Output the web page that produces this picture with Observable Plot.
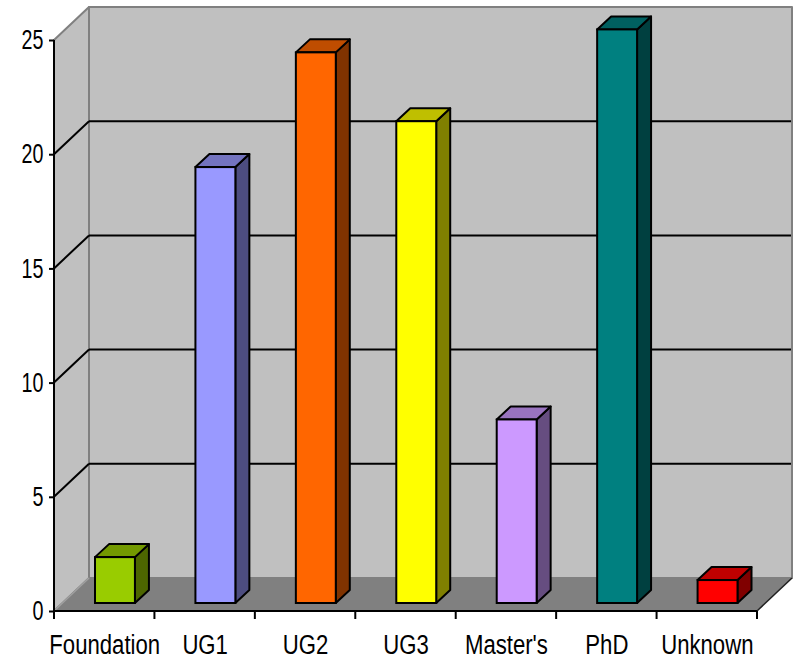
<!DOCTYPE html>
<html>
<head>
<meta charset="utf-8">
<style>html,body{margin:0;padding:0;background:#fff}svg{display:block;overflow:visible}</style>
<script src="https://cdn.jsdelivr.net/npm/d3@7"></script>
<script src="https://cdn.jsdelivr.net/npm/@observablehq/plot@0.6"></script>
</head>
<body>
<div id="chart"></div>
<script>
const categories = ["Foundation", "UG1", "UG2", "UG3", "Master's", "PhD", "Unknown"];
const counts = [2, 19, 24, 21, 8, 25, 1];
const frontColors = ["#99CC00", "#9999FF", "#FF6600", "#FFFF00", "#CC99FF", "#008080", "#FF0000"];
const yTicks = [0, 5, 10, 15, 20, 25];
const rows = categories.map((category, i) => ({category, count: counts[i]}));

// 3D projection of the box
const wallDx = 35, wallDy = -33;      // depth of the chart box
const barDx = 0, barDy = -8;          // plane of the bars' front faces
const boxDx = 14, boxDy = -13;        // depth of each bar
const insetL = 41, insetR = 19.5;     // bar within its band
const stretch = 1.0045;               // bars' plane is marginally taller than the axis
const lineW = 2;

function box3d(index, scales, values, dims) {
  const {x, y} = scales;
  const ns = "http://www.w3.org/2000/svg";
  const g = d3.select(document.createElementNS(ns, "g"));
  const left = dims.marginLeft, right = dims.width - dims.marginRight;
  const poly = (pts, fill, stroke, sw) => g.append("path")
    .attr("d", "M" + pts.map(p => p.join(",")).join("L") + "Z")
    .attr("fill", fill).attr("stroke", stroke || "none").attr("stroke-width", sw || 0)
    .attr("stroke-linejoin", "round");
  const line = (a, b, stroke, sw) => g.append("line")
    .attr("x1", a[0]).attr("y1", a[1]).attr("x2", b[0]).attr("y2", b[1])
    .attr("stroke", stroke).attr("stroke-width", sw);
  const y0 = y(0), yTop = y(d3.max(yTicks));

  // walls and floor
  poly([[left + wallDx, yTop + wallDy], [right + wallDx, yTop + wallDy], [right + wallDx, y0 + wallDy], [left + wallDx, y0 + wallDy]], "#C0C0C0", "#808080", 2);
  poly([[left, yTop], [left + wallDx, yTop + wallDy], [left + wallDx, y0 + wallDy], [left, y0]], "#C0C0C0", "#808080", 2);
  poly([[left, y0], [left + wallDx, y0 + wallDy], [right + wallDx, y0 + wallDy], [right, y0]], "#808080");
  line([left, y0], [left + wallDx, y0 + wallDy], "#A0A0A0", 1.5);
  line([right, y0], [right + wallDx, y0 + wallDy], "#202020", 1.5);

  // gridlines on left and back walls
  for (const t of yTicks) {
    if (t === 0 || t === d3.max(yTicks)) continue;
    line([left, y(t)], [left + wallDx, y(t) + wallDy], "#000", lineW);
    line([left + wallDx, y(t) + wallDy], [right + wallDx - 1, y(t) + wallDy], "#000", lineW);
  }

  // top and side faces of each bar
  const bandW = x(categories[1]) - x(categories[0]);
  rows.forEach((d, i) => {
    const c = d3.rgb(frontColors[i]);
    const xl = x(d.category) + insetL + barDx, xr = x(d.category) + bandW - insetR + barDx;
    const yb = y0 + barDy, yt = y0 + (y(d.count) - y0) * stretch + barDy;
    poly([[xr, yt], [xr + boxDx, yt + boxDy], [xr + boxDx, yb + boxDy], [xr, yb]],
      d3.rgb(c.r * .5, c.g * .5, c.b * .5).formatHex(), "#000", lineW);
    poly([[xl, yt], [xl + boxDx, yt + boxDy], [xr + boxDx, yt + boxDy], [xr, yt]],
      d3.rgb(c.r * .75, c.g * .75, c.b * .75).formatHex(), "#000", lineW);
  });
  return g.node();
}

function axisLines(index, scales, values, dims) {
  const {x, y} = scales;
  const ns = "http://www.w3.org/2000/svg";
  const g = d3.select(document.createElementNS(ns, "g")).attr("stroke", "#000").attr("stroke-width", lineW);
  const left = dims.marginLeft, right = dims.width - dims.marginRight;
  const bandW = x(categories[1]) - x(categories[0]);
  g.append("line").attr("x1", left).attr("x2", left).attr("y1", y(d3.max(yTicks))).attr("y2", y(0));
  g.append("line").attr("x1", left).attr("x2", right).attr("y1", y(0)).attr("y2", y(0));
  categories.forEach((c, i) => {
    g.append("line").attr("x1", x(c)).attr("x2", x(c)).attr("y1", y(0)).attr("y2", y(0) + 8);
    if (i === categories.length - 1)
      g.append("line").attr("x1", x(c) + bandW).attr("x2", x(c) + bandW).attr("y1", y(0)).attr("y2", y(0) + 8);
  });
  return g.node();
}

const chart = Plot.plot({
  width: 794,
  height: 661,
  marginLeft: 54,
  marginRight: 37,
  marginTop: 40,
  marginBottom: 50,
  style: {background: "transparent", fontFamily: "'Liberation Sans', Arial, sans-serif", color: "#000", overflow: "visible"},
  x: {type: "band", domain: categories, padding: 0, round: false, label: null},
  y: {domain: [0, 25], label: null},
  color: {domain: categories, range: frontColors},
  marks: [
    box3d,
    Plot.barY(rows, {
      x: "category",
      y: d => d.count * stretch,
      fill: "category",
      stroke: "#000",
      strokeWidth: lineW,
      insetLeft: insetL,
      insetRight: insetR,
      dx: barDx,
      dy: barDy
    }),
    axisLines,
    Plot.axisY({ticks: yTicks, tickSize: 5, tickPadding: 6, stroke: "#000", strokeWidth: lineW, label: null, fontSize: 27, className: "ylab"}),
    Plot.axisX({tickSize: 0, tickPadding: 23, label: null, fontSize: 27, className: "xlab"})
  ]
});
document.getElementById("chart").appendChild(chart);

// the reference's type is horizontally condensed
const condense = (selector, ratio) => chart.querySelectorAll(selector).forEach(t => {
  t.setAttribute("textLength", (t.getComputedTextLength() * ratio).toFixed(1));
  t.setAttribute("lengthAdjust", "spacingAndGlyphs");
});
condense("[aria-label='y-axis tick label'] text", 0.73);
condense("[aria-label='x-axis tick label'] text", 0.82);
</script>
</body>
</html>
